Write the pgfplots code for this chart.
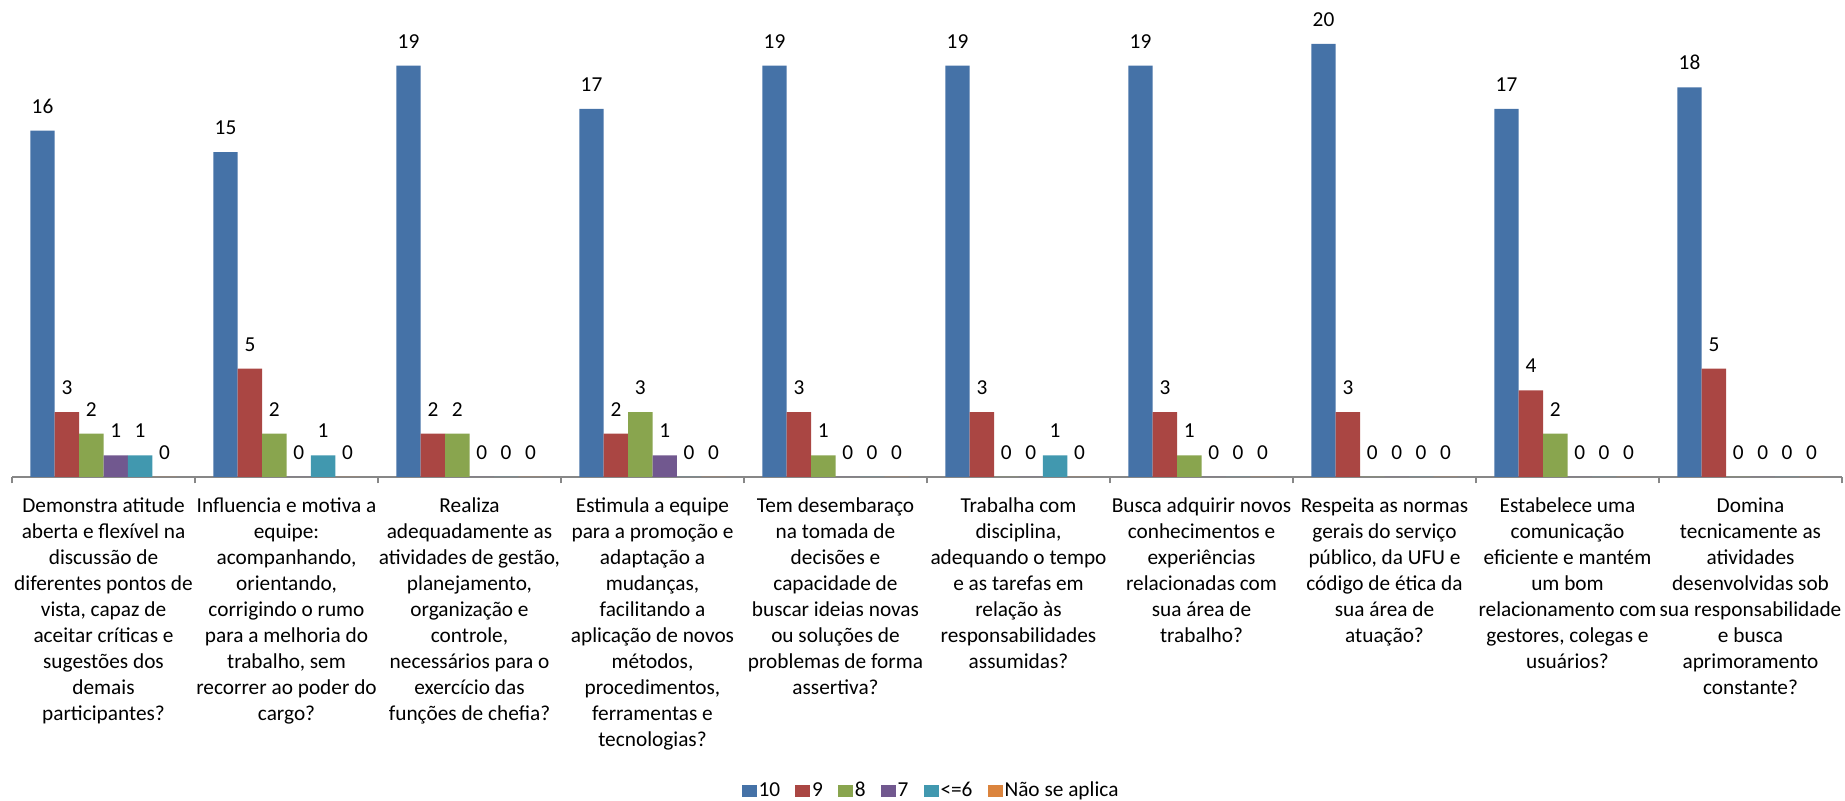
\documentclass[border=0pt]{standalone}
\usepackage{fontspec}
\setmainfont{Carlito}
\usepackage{pgfplots}
\usepackage{pgfplotstable}
\pgfplotsset{compat=1.18}
\definecolor{c10}{HTML}{4572A7}
\definecolor{c9}{HTML}{AA4643}
\definecolor{c8}{HTML}{89A54E}
\definecolor{c7}{HTML}{71588F}
\definecolor{c6}{HTML}{4198AF}
\definecolor{cna}{HTML}{DB843D}
\definecolor{axgray}{HTML}{878787}
\pgfplotstableread{
cat v10 v9 v8 v7 v6 na
0 16 3 2 1 1 0
1 15 5 2 0 1 0
2 19 2 2 0 0 0
3 17 2 3 1 0 0
4 19 3 1 0 0 0
5 19 3 0 0 1 0
6 19 3 1 0 0 0
7 20 3 0 0 0 0
8 17 4 2 0 0 0
9 18 5 0 0 0 0
}\datatable
\newcommand{\fl}{\rule{0pt}{8pt}}
\begin{document}
\fontsize{10.65}{13}\selectfont
\begin{tikzpicture}
\path[use as bounding box] (-6pt,-162pt) rectangle (916.5pt,238.5pt);
\begin{axis}[
  at={(0,0)}, anchor=south west,
  scale only axis,
  width=915pt, height=216.5pt,
  xmin=-0.5, xmax=9.5, ymin=0, ymax=20,
  enlargelimits=false,
  clip=false,
  ybar=0pt, bar width=12.2pt,
  axis y line=none,
  axis x line*=bottom,
  x axis line style={draw=axgray, line width=1pt},
  xtick={0,...,9},
  major tick length=0pt,
  minor xtick={-0.5,0.5,...,9.5},
  minor tick length=3.25pt,
  xtick align=outside,
  minor tick style={draw=axgray, line width=1pt},
  /pgf/number format/assume math mode=true,
  nodes near coords,
  nodes near coords style={anchor=south, inner sep=0pt, yshift=8.5pt, text=black},
  xticklabel style={align=center, anchor=north, inner sep=0pt, yshift=-9.5pt, text=black},
  xticklabels={
    {\fl Demonstra atitude\\aberta e flexível na\\discussão de\\diferentes pontos de\\vista, capaz de\\aceitar críticas e\\sugestões dos\\demais\\participantes?},
    {\fl Influencia e motiva a\\equipe:\\acompanhando,\\orientando,\\corrigindo o rumo\\para a melhoria do\\trabalho, sem\\recorrer ao poder do\\cargo?},
    {\fl Realiza\\adequadamente as\\atividades de gestão,\\planejamento,\\organização e\\controle,\\necessários para o\\exercício das\\funções de chefia?},
    {\fl Estimula a equipe\\para a promoção e\\adaptação a\\mudanças,\\facilitando a\\aplicação de novos\\métodos,\\procedimentos,\\ferramentas e\\tecnologias?},
    {\fl Tem desembaraço\\na tomada de\\decisões e\\capacidade de\\buscar ideias novas\\ou soluções de\\problemas de forma\\assertiva?},
    {\fl Trabalha com\\disciplina,\\adequando o tempo\\e as tarefas em\\relação às\\responsabilidades\\assumidas?},
    {\fl Busca adquirir novos\\conhecimentos e\\experiências\\relacionadas com\\sua área de\\trabalho?},
    {\fl Respeita as normas\\gerais do serviço\\público, da UFU e\\código de ética da\\sua área de\\atuação?},
    {\fl Estabelece uma\\comunicação\\eficiente e mantém\\um bom\\relacionamento com\\gestores, colegas e\\usuários?},
    {\fl Domina\\tecnicamente as\\atividades\\desenvolvidas sob\\sua responsabilidade\\e busca\\aprimoramento\\constante?}
  },
  legend columns=-1,
  legend image code/.code={\fill[#1] (0pt,-3.2pt) rectangle (7.5pt,3.2pt);},
  legend style={at={(0.5,0)}, anchor=center, xshift=2pt, yshift=-157pt, draw=none, fill=none,
    inner sep=0pt, outer sep=0pt,
    nodes={inner sep=1pt, text=black},
    /tikz/every even column/.append style={column sep=6.5pt}},
]
\addplot[fill=c10, draw=none] table[x=cat, y=v10] {\datatable};
\addplot[fill=c9, draw=none] table[x=cat, y=v9] {\datatable};
\addplot[fill=c8, draw=none] table[x=cat, y=v8] {\datatable};
\addplot[fill=c7, draw=none] table[x=cat, y=v7] {\datatable};
\addplot[fill=c6, draw=none] table[x=cat, y=v6] {\datatable};
\addplot[fill=cna, draw=none] table[x=cat, y=na] {\datatable};
\legend{10,9,8,7,<=6,Não se aplica}
\end{axis}
\end{tikzpicture}
\end{document}
